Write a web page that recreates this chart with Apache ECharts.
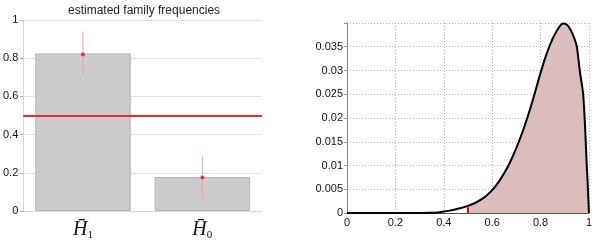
<!DOCTYPE html>
<html>
<head>
<meta charset="utf-8">
<script src="https://cdn.jsdelivr.net/npm/echarts@6/dist/echarts.min.js"></script>
<style>
  html, body { margin: 0; padding: 0; background: #fff; }
  #main { width: 595px; height: 249px; }
</style>
</head>
<body>
<div id="main"></div>
<script>
// left panel: estimated family frequencies
const categories = ['H1', 'H0'];
const frequencies = [0.825, 0.178];
const freqMean = [0.82, 0.175];
const errLow = [0.715, 0.07];
const errHigh = [0.94, 0.29];
const chanceLevel = 0.5;

// right panel: posterior density
const densityX = [0, 0.1, 0.2, 0.3, 0.35, 0.375, 0.4, 0.425, 0.45, 0.475, 0.5, 0.525, 0.55, 0.575,
  0.6, 0.625, 0.65, 0.675, 0.7, 0.725, 0.75, 0.775, 0.8, 0.825, 0.85, 0.875, 0.893, 0.91, 0.925,
  0.94, 0.95, 0.962, 0.976, 0.985, 0.991, 0.996, 1];
const densityY = [0, 0, 0, 0, 0.00003, 0.00012, 0.0003, 0.0005, 0.0008, 0.0011, 0.0015, 0.0020, 0.0027, 0.0036,
  0.0048, 0.0064, 0.0084, 0.0108, 0.0137, 0.0170, 0.0208, 0.0250, 0.0295, 0.0335, 0.0367, 0.039, 0.0399, 0.0396, 0.0385,
  0.0367, 0.035, 0.030, 0.025, 0.017, 0.010, 0.005, 0];
const thresholdX = 0.5;
const thresholdMarkY = 0.0012;

const densityData = densityX.map((x, i) => [x, densityY[i]]);
const shadedData = densityData.filter(p => p[0] >= thresholdX);

const myChart = echarts.init(document.getElementById('main'));

const font = 'Liberation Sans';

const option = {
  animation: false,
  textStyle: { fontFamily: font },
  title: {
    text: 'estimated family frequencies',
    left: 63,
    top: 0,
    textStyle: { fontSize: 12, fontWeight: 'normal', color: '#222', fontFamily: font },
  },
  grid: [
    { left: 21, right: 333, top: 20, bottom: 38 },
    { left: 347, right: 6, top: 23, bottom: 36 },
  ],
  xAxis: [
    {
      gridIndex: 0,
      type: 'category',
      data: categories,
      axisLine: { lineStyle: { color: '#d8d8d8' } },
      axisTick: { show: false },
      axisLabel: {
        margin: 7,
        formatter: v => '{h|H\u0304}{s|' + v.slice(1) + '}',
        rich: {
          h: { fontFamily: 'Liberation Serif', fontStyle: 'italic', fontSize: 20, color: '#111' },
          s: { fontFamily: 'Liberation Serif', fontSize: 11, color: '#111', padding: [12, 0, 0, 0] },
        },
      },
    },
    {
      gridIndex: 1,
      type: 'value',
      min: 0,
      max: 1,
      interval: 0.2,
      axisLine: { lineStyle: { color: '#555' } },
      axisTick: { show: false },
      axisLabel: { fontSize: 11, color: '#111', margin: 4, fontFamily: font },
      splitLine: { show: true, lineStyle: { color: '#b8b8b8', type: [1, 2] } },
    },
  ],
  yAxis: [
    {
      gridIndex: 0,
      type: 'value',
      min: 0,
      max: 1,
      interval: 0.2,
      axisLine: { show: true, lineStyle: { color: '#d8d8d8' } },
      axisTick: { show: true, length: 3, lineStyle: { color: '#aaa' } },
      axisLabel: { fontSize: 11, color: '#111', margin: 5, fontFamily: font },
      splitLine: { lineStyle: { color: '#e2e2e2' } },
    },
    {
      gridIndex: 1,
      type: 'value',
      min: 0,
      max: 0.04,
      interval: 0.005,
      axisLine: { show: true, lineStyle: { color: '#888' } },
      axisTick: { show: true, length: 3, lineStyle: { color: '#999' } },
      axisLabel: {
        fontSize: 11,
        color: '#111',
        margin: 4,
        fontFamily: font,
        formatter: v => (v >= 0.0399 ? '' : String(parseFloat(v.toFixed(3)))),
      },
      splitLine: { show: true, lineStyle: { color: '#b8b8b8', type: [1, 2] } },
    },
  ],
  series: [
    {
      type: 'bar',
      xAxisIndex: 0,
      yAxisIndex: 0,
      data: frequencies,
      barWidth: '80%',
      itemStyle: { color: '#cccccc', borderColor: '#b5b5b5', borderWidth: 1 },
      markLine: {
        symbol: 'none',
        silent: true,
        label: { show: false },
        lineStyle: { color: '#ee2a2a', width: 2, type: 'solid' },
        data: [{ yAxis: chanceLevel }],
      },
    },
    {
      type: 'custom',
      xAxisIndex: 0,
      yAxisIndex: 0,
      data: categories.map((c, i) => [i, errLow[i], errHigh[i]]),
      renderItem: (params, api) => {
        const lo = api.coord([api.value(0), api.value(1)]);
        const hi = api.coord([api.value(0), api.value(2)]);
        return {
          type: 'line',
          shape: { x1: lo[0], y1: lo[1], x2: hi[0], y2: hi[1] },
          style: { stroke: '#f0a0a0', lineWidth: 1 },
        };
      },
      z: 3,
    },
    {
      type: 'scatter',
      xAxisIndex: 0,
      yAxisIndex: 0,
      data: freqMean.map((v, i) => [i, v]),
      symbolSize: 4,
      itemStyle: { color: '#ee1111' },
      z: 4,
    },
    {
      type: 'line',
      xAxisIndex: 1,
      yAxisIndex: 1,
      data: shadedData,
      smooth: 0.3,
      showSymbol: false,
      lineStyle: { width: 0, opacity: 0 },
      areaStyle: { color: '#dcbdbd', opacity: 1 },
      z: 2,
    },
    {
      type: 'line',
      xAxisIndex: 1,
      yAxisIndex: 1,
      data: densityData,
      smooth: 0.3,
      showSymbol: false,
      lineStyle: { color: '#000', width: 2 },
      z: 4,
      markLine: {
        symbol: 'none',
        silent: true,
        label: { show: false },
        lineStyle: { color: '#ff0000', width: 2, type: 'solid' },
        data: [[{ coord: [thresholdX, 0] }, { coord: [thresholdX, thresholdMarkY] }]],
      },
    },
  ],
};

myChart.setOption(option);
window.addEventListener('resize', function () {
  myChart.resize();
});
</script>
</body>
</html>
